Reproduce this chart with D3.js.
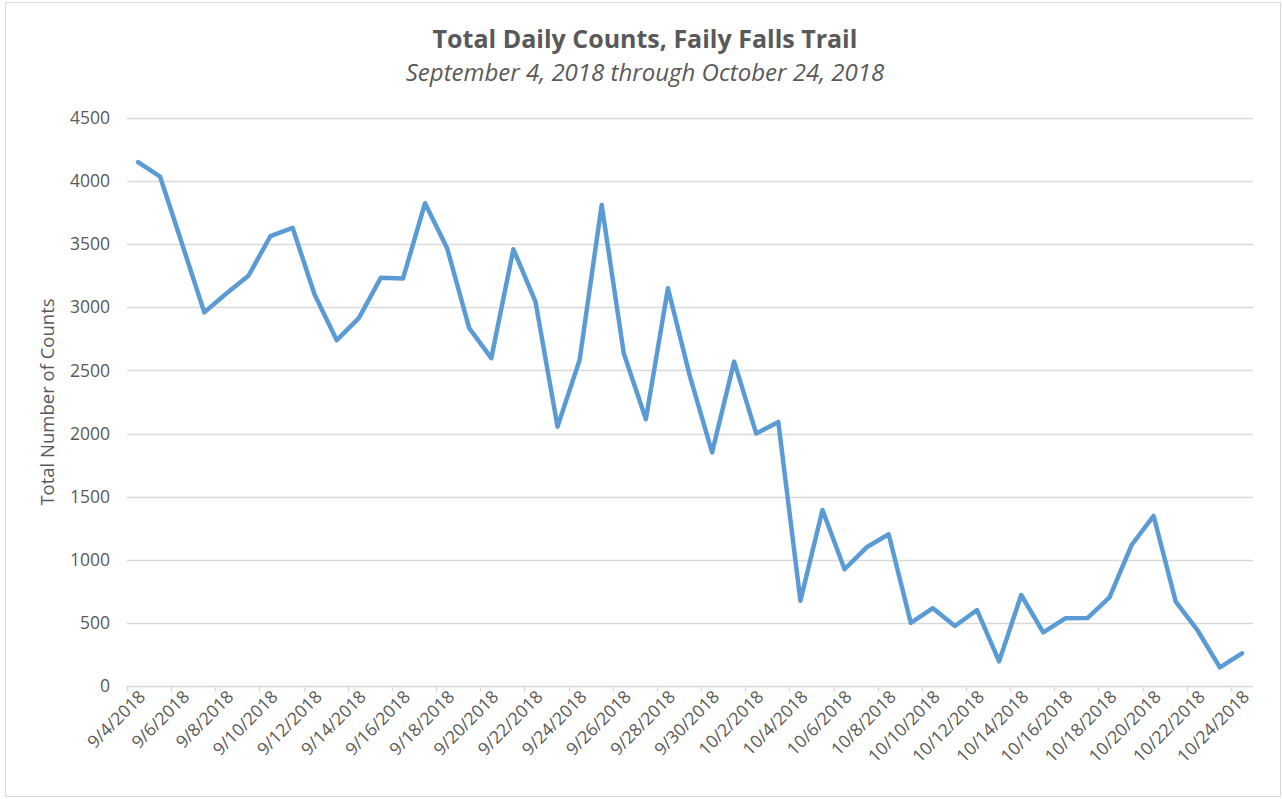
<!DOCTYPE html>
<html>
<head>
<meta charset="utf-8">
<script src="https://cdn.jsdelivr.net/npm/d3@7"></script>
<style>
	body { margin: 0; background: #fff; }
	svg { display: block; font-family: "Open Sans", sans-serif; }
</style>
</head>
<body>
<div id="chart"></div>
<script>
// daily totals, 9/4/2018 .. 10/24/2018
const startDate = "2018-09-04";
const counts = [
	4150, 4035, 3500, 2960, 3110, 3250, 3565, 3630, 3100, 2740,
	2915, 3235, 3228, 3825, 3468, 2835, 2597, 3460, 3045, 2055,
	2583, 3811, 2636, 2113, 3151, 2451, 1850, 2570, 2000, 2092,
	675, 1395, 925, 1099, 1202, 500, 616, 475, 602, 195,
	721, 425, 536, 538, 702, 1117, 1347, 668, 438, 148,
	259
];
const yTicks = [0, 500, 1000, 1500, 2000, 2500, 3000, 3500, 4000, 4500];
const title = "Total Daily Counts, Faily Falls Trail";
const subtitle = "September 4, 2018 through October 24, 2018";
const yLabel = "Total Number of Counts";

const width = 1283, height = 799;
const margin = {top: 118, right: 30, bottom: 113, left: 127};

const parse = d3.timeParse("%Y-%m-%d");
const fmt = d3.timeFormat("%-m/%-d/%Y");
const t0 = parse(startDate);
const data = counts.map((v, i) => ({date: d3.timeDay.offset(t0, i), value: v}));
const labels = data.map(d => fmt(d.date));

const svg = d3.select("#chart").append("svg")
	.attr("width", width)
	.attr("height", height);

// chart border
svg.append("rect")
	.attr("x", 5.5).attr("y", 2.5)
	.attr("width", width - 8).attr("height", height - 5)
	.attr("fill", "none")
	.attr("stroke", "#d9d9d9");

const x = d3.scaleBand()
	.domain(labels)
	.range([margin.left, width - margin.right])
	.paddingInner(0).paddingOuter(0);

const y = d3.scaleLinear()
	.domain([0, 4500])
	.range([height - margin.bottom, margin.top]);

// gridlines
svg.append("g")
	.selectAll("line")
	.data(yTicks.slice(1))
	.join("line")
	.attr("x1", margin.left)
	.attr("x2", width - margin.right)
	.attr("y1", d => Math.round(y(d)) + 0.5)
	.attr("y2", d => Math.round(y(d)) + 0.5)
	.attr("stroke", "#d9d9d9")
	.attr("stroke-width", 1.5);

// y labels
svg.append("g")
	.selectAll("text")
	.data(yTicks)
	.join("text")
	.attr("x", margin.left - 17)
	.attr("y", d => y(d))
	.attr("dy", "0.35em")
	.attr("text-anchor", "end")
	.attr("fill", "#595959")
	.style("font-size", "17.5px")
	.text(d => d);

// x axis line + ticks between every 2nd category
const y0 = Math.round(y(0)) + 0.5;
svg.append("line")
	.attr("x1", margin.left).attr("x2", width - margin.right)
	.attr("y1", y0).attr("y2", y0)
	.attr("stroke", "#d9d9d9")
	.attr("stroke-width", 1.5);

const tickLabels = labels.filter((d, i) => i % 2 === 0);
svg.append("g")
	.selectAll("line")
	.data(tickLabels)
	.join("line")
	.attr("x1", d => Math.round(x(d)) + 0.5)
	.attr("x2", d => Math.round(x(d)) + 0.5)
	.attr("y1", y0)
	.attr("y2", y0 + 5)
	.attr("stroke", "#d9d9d9")
	.attr("stroke-width", 1.5);

svg.append("g")
	.selectAll("text")
	.data(tickLabels)
	.join("text")
	.attr("transform", d => `translate(${x(d) + x.bandwidth() / 2 + 4},${y0 + 7}) rotate(-45)`)
	.attr("text-anchor", "end")
	.attr("dy", "0.35em")
	.attr("fill", "#595959")
	.style("font-size", "17.5px")
	.text(d => d);

// the line
const line = d3.line()
	.x(d => x(fmt(d.date)) + x.bandwidth() / 2)
	.y(d => y(d.value));

svg.append("path")
	.datum(data)
	.attr("d", line)
	.attr("fill", "none")
	.attr("stroke", "#5b9bd5")
	.attr("stroke-width", 4.5)
	.attr("stroke-linejoin", "round")
	.attr("stroke-linecap", "round");

// titles
svg.append("text")
	.attr("x", 645).attr("y", 48)
	.attr("text-anchor", "middle")
	.attr("fill", "#595959")
	.style("font-size", "25px")
	.style("font-weight", "bold")
	.text(title);

svg.append("text")
	.attr("x", 645).attr("y", 81)
	.attr("text-anchor", "middle")
	.attr("fill", "#595959")
	.style("font-size", "24px")
	.style("font-style", "italic")
	.text(subtitle);

svg.append("text")
	.attr("transform", `translate(54,${(margin.top + height - margin.bottom) / 2}) rotate(-90)`)
	.attr("text-anchor", "middle")
	.attr("fill", "#595959")
	.style("font-size", "18.5px")
	.text(yLabel);
</script>
</body>
</html>
